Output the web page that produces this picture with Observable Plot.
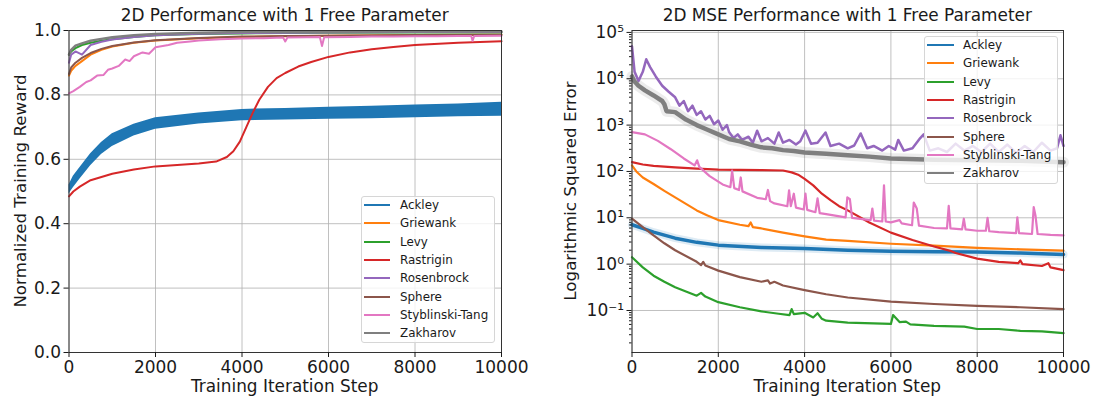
<!DOCTYPE html>
<html>
<head>
<meta charset="utf-8">
<script src="https://cdn.jsdelivr.net/npm/d3@7"></script>
<script src="https://cdn.jsdelivr.net/npm/@observablehq/plot@0.6"></script>
<style>
  html, body { margin: 0; padding: 0; background: #fff; }
  #wrap { position: relative; width: 1093px; height: 399px; overflow: hidden; font-family: "DejaVu Sans", sans-serif; color: #1a1a1a; }
  .panel { position: absolute; top: 0; }
  .title { position: absolute; font-size: 16.9px; white-space: nowrap; transform: translate(-50%, -50%); }
  .xlabel { position: absolute; font-size: 16.9px; white-space: nowrap; transform: translate(-50%, -50%); }
  .ylabel { position: absolute; font-size: 16.7px; white-space: nowrap; transform: translate(-50%, -50%) rotate(-90deg); }
  .legend { position: absolute; background: rgba(255,255,255,0.8); border: 1px solid #d6d6d6; border-radius: 3px; box-sizing: border-box; }
  .legend .row { position: absolute; left: 0; height: 18px; font-size: 11.9px; line-height: 18px; white-space: nowrap; }
  .legend .sw { position: absolute; top: 8px; height: 2px; }
  .legend .lab { position: absolute; top: 0; }
</style>
</head>
<body>
<div id="wrap"></div>
<script>
// ---------- shared labels / categories ----------
const xTicks = [0, 2000, 4000, 6000, 8000, 10000];
const rewardTicks = [0, 0.2, 0.4, 0.6, 0.8, 1.0];
const logTicks = [0.1, 1, 10, 100, 1000, 10000, 100000];
const logTickLabels = ["10\u207B\u00B9", "10\u2070", "10\u00B9", "10\u00B2", "10\u00B3", "10\u2074", "10\u2075"];
const seriesNames = ["Ackley", "Griewank", "Levy", "Rastrigin", "Rosenbrock", "Sphere", "Styblinski-Tang", "Zakharov"];
const seriesColors = ["#1f77b4", "#ff7f0e", "#2ca02c", "#d62728", "#9467bd", "#8c564b", "#e377c2", "#7f7f7f"];

// ---------- left panel: normalized training reward ----------
const ackleySteps = [0, 100, 250, 500, 750, 1000, 1500, 2000, 3000, 4000, 5000, 6000, 7000, 8000, 9000, 10000];
const ackleyRewardLo = [0.492, 0.512, 0.538, 0.58, 0.615, 0.64, 0.672, 0.693, 0.71, 0.72, 0.722, 0.724, 0.726, 0.729, 0.732, 0.734];
const ackleyRewardHi = [0.52, 0.547, 0.574, 0.617, 0.652, 0.679, 0.709, 0.729, 0.744, 0.755, 0.758, 0.762, 0.765, 0.769, 0.772, 0.777];

const rastriginReward = [[0,0.485],[100,0.50],[250,0.515],[500,0.535],[1000,0.555],[1500,0.568],[2000,0.578],[2500,0.582],[3000,0.587],[3400,0.593],[3650,0.607],[3800,0.625],[3950,0.655],[4100,0.70],[4250,0.745],[4400,0.785],[4600,0.825],[4800,0.852],[5000,0.868],[5300,0.888],[5600,0.902],[6000,0.918],[6500,0.932],[7000,0.942],[7500,0.949],[8000,0.955],[9000,0.962],[10000,0.967]];

const upperSteps = [0, 50, 150, 300, 500, 750, 1000, 1500, 2000, 3000, 4000, 5000, 6000, 8000, 10000];
const griewankReward   = [0.86, 0.875, 0.89, 0.905, 0.925, 0.94, 0.95, 0.962, 0.969, 0.976, 0.98, 0.982, 0.984, 0.986, 0.987];
const levyReward       = [0.925, 0.935, 0.945, 0.955, 0.962, 0.968, 0.973, 0.98, 0.985, 0.989, 0.991, 0.992, 0.993, 0.994, 0.994];
const rosenbrockReward = [0.90, 0.925, 0.935, 0.925, 0.955, 0.965, 0.972, 0.98, 0.985, 0.99, 0.992, 0.993, 0.994, 0.995, 0.995];
const sphereReward     = [0.865, 0.885, 0.90, 0.915, 0.93, 0.943, 0.952, 0.963, 0.97, 0.977, 0.981, 0.983, 0.984, 0.986, 0.987];
const zakharovReward   = [0.925, 0.94, 0.953, 0.96, 0.968, 0.974, 0.979, 0.985, 0.989, 0.993, 0.995, 0.996, 0.996, 0.997, 0.997];

const styblinskiReward = [[0,0.805],[100,0.812],[250,0.825],[400,0.84],[500,0.845],[650,0.86],[800,0.862],[900,0.878],[1000,0.882],[1150,0.89],[1300,0.91],[1400,0.905],[1500,0.92],[1700,0.932],[1850,0.928],[2000,0.948],[2300,0.955],[2500,0.962],[2800,0.966],[3000,0.969],[3500,0.973],[4000,0.975],[4500,0.976],[4950,0.978],[5000,0.966],[5050,0.978],[5500,0.979],[5800,0.98],[5850,0.952],[5900,0.979],[6500,0.98],[7000,0.981],[7500,0.981],[8000,0.982],[8500,0.982],[9000,0.983],[9300,0.983],[9330,0.968],[9370,0.983],[10000,0.984]];

// ---------- right panel: MSE, values read as log10(MSE) ----------
const ackleyLogMSE = [[0,0.85],[250,0.77],[500,0.69],[1000,0.56],[1500,0.47],[2000,0.41],[3000,0.36],[4000,0.34],[5000,0.30],[6000,0.28],[7000,0.27],[8000,0.26],[9000,0.24],[10000,0.21]];
const griewankLogMSE = [[0,2.13],[100,2.0],[250,1.87],[500,1.73],[750,1.58],[1000,1.44],[1250,1.3],[1500,1.16],[1750,1.05],[2000,0.95],[2500,0.85],[2700,0.82],[2750,0.9],[2800,0.8],[3000,0.77],[3500,0.68],[4000,0.6],[4500,0.53],[5000,0.5],[6000,0.44],[7000,0.4],[8000,0.35],[9000,0.32],[10000,0.29]];
const levyLogMSE = [[0,0.15],[250,-0.07],[500,-0.25],[750,-0.38],[1000,-0.5],[1500,-0.68],[1600,-0.62],[1700,-0.7],[2000,-0.82],[2500,-0.93],[3000,-1.02],[3400,-1.07],[3650,-1.1],[3700,-0.97],[3750,-1.08],[4000,-1.05],[4200,-1.15],[4300,-1.06],[4400,-1.18],[4500,-1.22],[5000,-1.26],[6000,-1.29],[6050,-1.1],[6200,-1.25],[6350,-1.24],[6450,-1.3],[7000,-1.33],[7700,-1.35],[8000,-1.4],[8500,-1.4],[9000,-1.44],[9500,-1.45],[10000,-1.49]];
const rastriginLogMSE = [[0,2.2],[250,2.15],[500,2.12],[1000,2.09],[1500,2.06],[2000,2.04],[2500,2.035],[3000,2.03],[3500,2.02],[3700,1.98],[3850,1.93],[4000,1.84],[4200,1.7],[4400,1.52],[4600,1.38],[4800,1.25],[5000,1.16],[5500,0.9],[6000,0.68],[6500,0.52],[7000,0.38],[7400,0.28],[7500,0.24],[8000,0.12],[8500,0.05],[8950,0.02],[9000,0.08],[9050,0.0],[9500,-0.04],[9650,0.02],[9700,-0.07],[10000,-0.13]];
const rosenbrockLogMSE = [[0,4.70],[60,4.15],[150,3.95],[250,4.15],[330,4.42],[420,4.25],[550,4.05],[700,3.85],[850,3.72],[1000,3.6],[1100,3.42],[1200,3.52],[1300,3.3],[1400,3.42],[1500,3.22],[1600,3.3],[1700,3.12],[1800,3.2],[1900,3.02],[2000,3.1],[2100,2.9],[2200,3.0],[2250,2.85],[2350,2.72],[2450,2.8],[2550,2.68],[2700,2.75],[2800,2.62],[2900,2.88],[3000,2.65],[3150,2.72],[3300,2.6],[3400,2.84],[3500,2.62],[3650,2.68],[3800,2.58],[3900,2.65],[4020,2.88],[4150,2.6],[4300,2.62],[4485,2.84],[4600,2.55],[4800,2.6],[5000,2.5],[5150,2.56],[5300,2.82],[5450,2.5],[5600,2.55],[5800,2.45],[5950,2.55],[6100,2.47],[6170,2.68],[6300,2.45],[6500,2.5],[6680,2.72],[6760,2.8],[6900,2.45],[7100,2.5],[7300,2.42],[7500,2.6],[7700,2.45],[7900,2.55],[8100,2.42],[8300,2.6],[8500,2.42],[8700,2.58],[8900,2.4],[9100,2.55],[9300,2.42],[9500,2.62],[9700,2.45],[9850,2.5],[9930,2.78],[10000,2.55]];
const sphereLogMSE = [[0,0.98],[250,0.80],[500,0.62],[750,0.45],[1000,0.30],[1500,0.05],[1600,-0.02],[1650,0.05],[1700,-0.03],[2000,-0.14],[2500,-0.28],[3000,-0.38],[3150,-0.35],[3200,-0.42],[3300,-0.38],[3500,-0.46],[4000,-0.56],[4500,-0.65],[5000,-0.72],[6000,-0.81],[7000,-0.86],[8000,-0.90],[9000,-0.93],[10000,-0.97]];
const styblinskiLogMSE = [[0,2.85],[300,2.8],[600,2.66],[900,2.48],[1200,2.28],[1450,2.13],[1510,2.24],[1560,2.1],[1800,1.9],[2100,1.72],[2280,1.66],[2320,2.02],[2370,1.64],[2480,1.6],[2520,1.87],[2560,1.57],[2900,1.43],[3100,1.4],[3150,1.6],[3200,1.36],[3300,1.31],[3600,1.25],[3640,1.59],[3680,1.25],[3750,1.52],[3800,1.22],[3980,1.18],[4020,1.52],[4060,1.17],[4250,1.12],[4300,1.42],[4350,1.1],[4500,1.08],[4950,1.01],[4990,1.44],[5050,1.4],[5100,1.0],[5530,0.95],[5570,1.2],[5610,0.94],[5800,0.92],[5840,1.7],[5880,0.92],[6000,0.9],[6200,0.95],[6250,0.88],[6490,0.84],[6530,1.33],[6600,1.2],[6650,0.83],[7000,0.78],[7300,0.77],[7340,1.26],[7380,0.77],[7650,0.75],[7690,0.98],[7730,0.75],[8000,0.72],[8200,0.72],[8240,1.0],[8280,0.71],[8500,0.69],[8900,0.67],[8930,1.01],[8970,0.67],[9270,0.65],[9310,1.23],[9350,1.05],[9400,0.65],[9700,0.63],[10000,0.62]];
const zakharovLogMSE = [[0,4.05],[50,3.95],[150,3.85],[300,3.75],[500,3.64],[700,3.52],[750,3.45],[800,3.3],[1000,3.28],[1250,3.12],[1500,3.0],[1750,2.9],[2000,2.8],[2250,2.7],[2500,2.65],[2750,2.58],[3000,2.52],[3250,2.5],[3500,2.46],[3750,2.44],[4000,2.41],[4500,2.38],[5000,2.35],[5500,2.32],[6000,2.28],[7000,2.25],[8000,2.24],[9000,2.23],[10000,2.2]];

// ---------- build tables ----------
const color = Object.fromEntries(seriesNames.map((n, i) => [n, seriesColors[i]]));
const ackleyBand = ackleySteps.map((s, i) => ({step: s, lo: ackleyRewardLo[i], hi: ackleyRewardHi[i]}));
const fromSteps = (steps, vals) => steps.map((s, i) => ({step: s, v: vals[i]}));
const fromPairs = (pairs) => pairs.map(([s, v]) => ({step: s, v}));
const fromLogPairs = (pairs) => pairs.map(([s, e]) => ({step: s, v: Math.pow(10, e)}));

const rewardLines = [
  ["Griewank", fromSteps(upperSteps, griewankReward)],
  ["Levy", fromSteps(upperSteps, levyReward)],
  ["Rastrigin", fromPairs(rastriginReward)],
  ["Rosenbrock", fromSteps(upperSteps, rosenbrockReward)],
  ["Sphere", fromSteps(upperSteps, sphereReward)],
  ["Styblinski-Tang", fromPairs(styblinskiReward)],
  ["Zakharov", fromSteps(upperSteps, zakharovReward)]
];

const mseData = {
  "Ackley": fromLogPairs(ackleyLogMSE),
  "Griewank": fromLogPairs(griewankLogMSE),
  "Levy": fromLogPairs(levyLogMSE),
  "Rastrigin": fromLogPairs(rastriginLogMSE),
  "Rosenbrock": fromLogPairs(rosenbrockLogMSE),
  "Sphere": fromLogPairs(sphereLogMSE),
  "Styblinski-Tang": fromLogPairs(styblinskiLogMSE),
  "Zakharov": fromLogPairs(zakharovLogMSE)
};

// minor log ticks (2..9 x 10^k)
const minorLogTicks = [];
for (let k = -2; k <= 4; k++) for (let m = 2; m <= 9; m++) minorLogTicks.push(m * Math.pow(10, k));

const gridStyle = {stroke: "#b0b0b0", strokeOpacity: 1, strokeWidth: 0.8};
const axisFont = {fontSize: 17, fill: "#1a1a1a"};

const wrap = document.getElementById("wrap");

// ---------- left plot ----------
const left = Plot.plot({
  width: 546, height: 399,
  marginLeft: 68.5, marginRight: 45, marginTop: 30, marginBottom: 47,
  style: {fontFamily: "DejaVu Sans, sans-serif", background: "transparent", overflow: "visible"},
  x: {domain: [0, 10000]},
  y: {domain: [0, 1]},
  marks: [
    Plot.gridX(xTicks, gridStyle),
    Plot.gridY(rewardTicks, gridStyle),
    Plot.areaY(ackleyBand, {x: "step", y1: "lo", y2: "hi", fill: color["Ackley"], fillOpacity: 1, curve: "linear"}),
    ...rewardLines.map(([name, rows]) =>
      Plot.lineY(rows, {x: "step", y: "v", stroke: color[name], strokeWidth: name === "Zakharov" ? 2.5 : 2})),
    Plot.frame({stroke: "#333", strokeWidth: 1}),
    Plot.axisX({ticks: xTicks, tickFormat: "d", tickSize: 5, tickPadding: 3, label: null, ...axisFont}),
    Plot.axisY({ticks: rewardTicks, tickFormat: ".1f", tickSize: 5, tickPadding: 3, label: null, ...axisFont})
  ]
});
left.classList.add("panel");
left.style.left = "0px";
wrap.appendChild(left);

// ---------- right plot ----------
const right = Plot.plot({
  width: 547, height: 399,
  marginLeft: 85.5, marginRight: 30, marginTop: 30, marginBottom: 47,
  style: {fontFamily: "DejaVu Sans, sans-serif", background: "transparent", overflow: "visible"},
  x: {domain: [0, 10000]},
  y: {type: "log", domain: [0.0124, 110000]},
  marks: [
    Plot.gridX(xTicks, gridStyle),
    Plot.gridY(logTicks, gridStyle),
    Plot.lineY(mseData["Ackley"], {x: "step", y: "v", stroke: color["Ackley"], strokeWidth: 8, strokeOpacity: 0.15}),
    Plot.lineY(mseData["Zakharov"], {x: "step", y: "v", stroke: color["Zakharov"], strokeWidth: 11, strokeOpacity: 0.15}),
    ...seriesNames.map(name =>
      Plot.lineY(mseData[name], {x: "step", y: "v", stroke: color[name],
        strokeWidth: name === "Ackley" ? 3.5 : name === "Zakharov" ? 4.5 : name === "Rosenbrock" ? 2.5 : 2.2})),
    Plot.frame({stroke: "#333", strokeWidth: 1}),
    Plot.axisX({ticks: xTicks, tickFormat: "d", tickSize: 5, tickPadding: 3, label: null, ...axisFont}),
    Plot.axisY({ticks: minorLogTicks, tickFormat: () => "", tickSize: 2.5, label: null}),
    Plot.axisY({ticks: logTicks, tickFormat: (d) => logTickLabels[logTicks.indexOf(d)], tickSize: 5, tickPadding: 3, label: null, ...axisFont})
  ]
});
right.classList.add("panel");
right.style.left = "546px";
wrap.appendChild(right);

// ---------- titles and axis labels ----------
function addText(cls, text, x, y) {
  const d = document.createElement("div");
  d.className = cls; d.textContent = text;
  d.style.left = x + "px"; d.style.top = y + "px";
  wrap.appendChild(d);
}
addText("title", "2D Performance with 1 Free Parameter", 284.7, 15);
addText("title", "2D MSE Performance with 1 Free Parameter", 847.3, 15);
addText("xlabel", "Training Iteration Step", 284.7, 386);
addText("xlabel", "Training Iteration Step", 847.3, 386);
addText("ylabel", "Normalized Training Reward", 20, 191);
addText("ylabel", "Logarithmic Squared Error", 570, 191);

// ---------- legends ----------
function addLegend(left, top, width, height, swX, swW, textX, firstY) {
  const lg = document.createElement("div");
  lg.className = "legend";
  lg.style.left = left + "px"; lg.style.top = top + "px";
  lg.style.width = width + "px"; lg.style.height = height + "px";
  seriesNames.forEach((name, i) => {
    const row = document.createElement("div");
    row.className = "row";
    row.style.top = (firstY + i * 18.3 - top - 9 - 1) + "px";
    row.style.width = (width - 2) + "px";
    const sw = document.createElement("div");
    sw.className = "sw";
    sw.style.left = (swX - left - 1) + "px"; sw.style.width = swW + "px";
    sw.style.background = color[name];
    const lab = document.createElement("div");
    lab.className = "lab";
    lab.style.left = (textX - left - 1) + "px";
    lab.textContent = name;
    row.appendChild(sw); row.appendChild(lab);
    lg.appendChild(row);
  });
  wrap.appendChild(lg);
}
addLegend(361, 196, 134, 147, 364, 26, 400, 205);
addLegend(924, 36, 134, 148, 927, 27, 963, 45);
</script>
</body>
</html>
